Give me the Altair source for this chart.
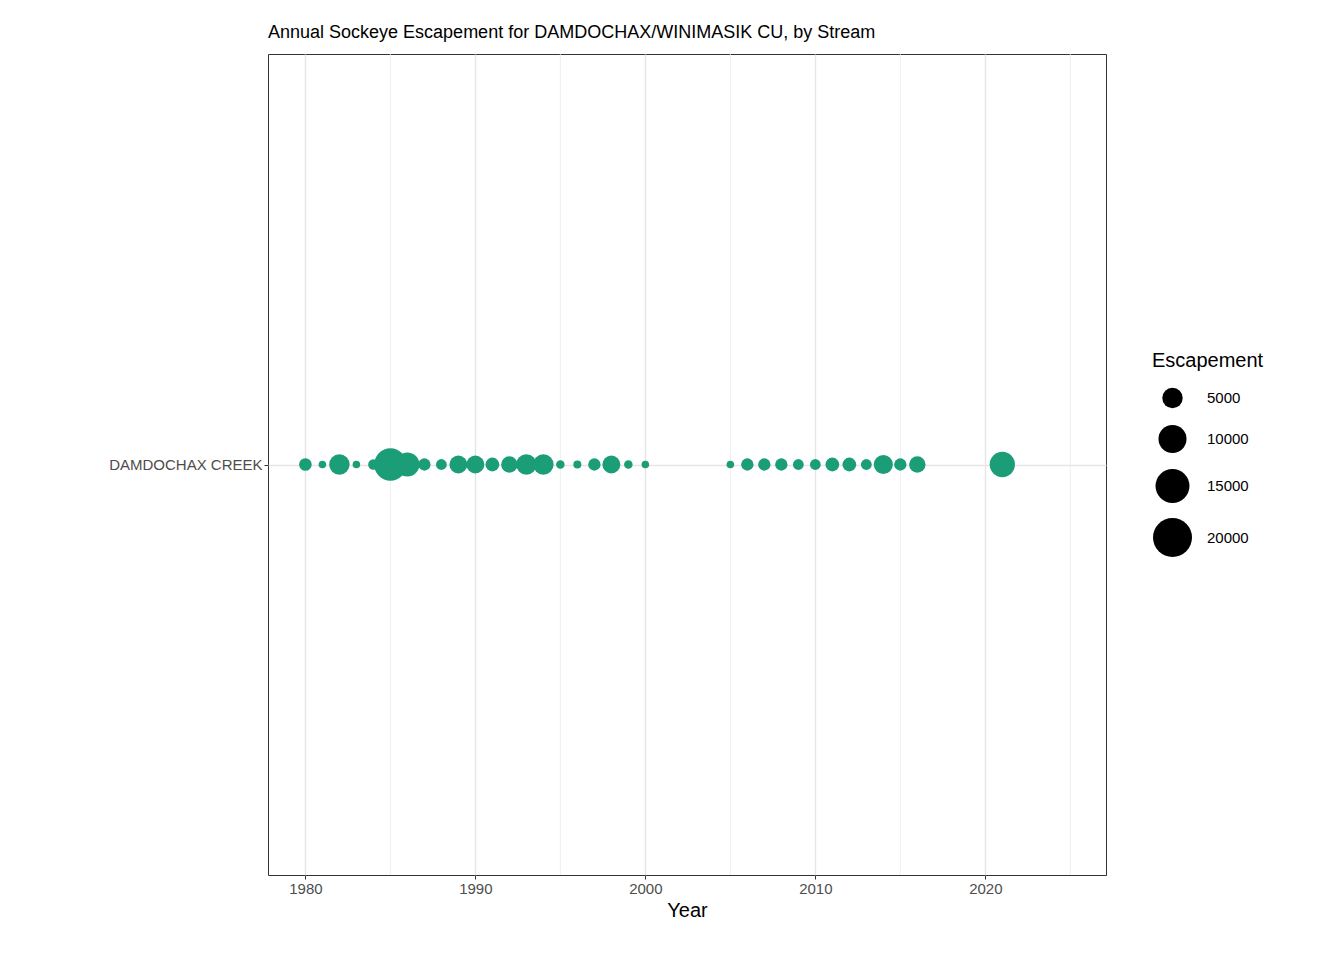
import altair as alt
import pandas as pd

years = [1980, 1981, 1982, 1983, 1984, 1985, 1986, 1987, 1988, 1989, 1990,
         1991, 1992, 1993, 1994, 1995, 1996, 1997, 1998, 1999, 2000,
         2005, 2006, 2007, 2008, 2009, 2010, 2011, 2012, 2013, 2014, 2015, 2016, 2021]
escapement = [1500, 100, 5000, 100, 800, 13500, 7200, 1400, 900, 3700, 3700,
              1900, 3000, 5000, 5000, 300, 200, 1400, 3700, 300, 100,
              100, 1400, 1400, 1400, 900, 900, 1900, 1900, 900, 4300, 1400, 3000, 8000]
stream = "DAMDOCHAX CREEK"
minor_years = [1985, 1995, 2005, 2015, 2025]
major_years = [1980, 1990, 2000, 2010, 2020]

df = pd.DataFrame({"Year": years, "Escapement": escapement, "Stream": stream})
minor_df = pd.DataFrame({"Year": minor_years})

FONT = "Liberation Sans"
xscale = alt.Scale(domain=[1977.8, 2027.1], nice=False, zero=False)
sscale = alt.Scale(domain=[0, 20000], range=[50, 1520], zero=False)

minor = alt.Chart(minor_df).mark_rule(color="#ebebeb", strokeWidth=0.8).encode(
    x=alt.X("Year:Q", scale=xscale)
)

# black symbols only feed the legend; no rows are drawn
legend_layer = alt.Chart(df).transform_filter("false").mark_circle(color="black", opacity=1).encode(
    x=alt.X("Year:Q", scale=xscale),
    y=alt.Y("Stream:N"),
    size=alt.Size("Escapement:Q", title="Escapement", scale=sscale,
                  legend=alt.Legend(values=[5000, 10000, 15000, 20000], format="d",
                                    orient="none", legendX=884, legendY=297,
                                    titleFontSize=20, titleFontWeight="normal",
                                    labelFontSize=15, padding=0, rowPadding=9,
                                    titlePadding=16, labelOffset=14)),
)

points = alt.Chart(df).mark_circle(color="#1b9e77", opacity=1).encode(
    x=alt.X("Year:Q", scale=xscale, title="Year",
            axis=alt.Axis(values=major_years, format="d", grid=True, gridColor="#e5e5e5",
                          gridWidth=1.4, tickColor="#333333", tickSize=4,
                          labelColor="#4d4d4d", labelFontSize=15, titleFontSize=20,
                          titleFontWeight="normal", titleColor="black", domain=False)),
    y=alt.Y("Stream:N", title=None,
            axis=alt.Axis(grid=True, gridColor="#e5e5e5", gridWidth=1.4, tickColor="#333333",
                          tickSize=4, labelColor="#4d4d4d", labelFontSize=15, domain=False)),
    size=alt.Size("Escapement:Q", scale=sscale, legend=None),
)

chart = (minor + legend_layer + points).properties(
    width=838, height=821,
    autosize=alt.AutoSizeParams(type="none"),
    padding={"left": 260, "top": 46, "right": 230, "bottom": 80},
    title=alt.Title("Annual Sockeye Escapement for DAMDOCHAX/WINIMASIK CU, by Stream",
                    anchor="start", frame="group", fontSize=18, fontWeight="normal",
                    color="black", font=FONT, offset=12),
).configure_view(stroke="#333333", strokeWidth=1).configure_axis(
    labelFont=FONT, titleFont=FONT
).configure_legend(labelFont=FONT, titleFont=FONT, labelColor="black", titleColor="black")

chart.save("out.html", embed_options={"renderer": "svg", "actions": False})
